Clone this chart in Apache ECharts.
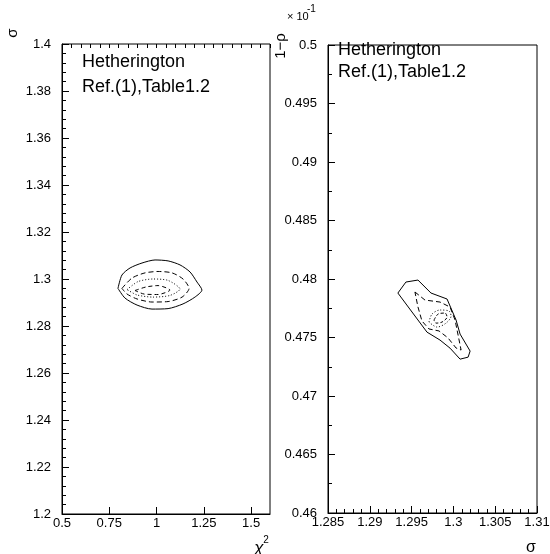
<!DOCTYPE html>
<html>
<head>
<meta charset="utf-8">
<script src="https://cdn.jsdelivr.net/npm/echarts@6/dist/echarts.min.js"></script>
<style>
  html, body { margin: 0; padding: 0; background: #fff; }
  #chart { width: 550px; height: 554px; }
</style>
</head>
<body>
<div id="chart"></div>
<script>
// axis ranges / ticks
var chiRange = [0.5, 1.6], chiStep = 0.25, chiMinorStep = 0.05;
var sigRange = [1.2, 1.4], sigStep = 0.02;
var sig2Range = [1.285, 1.31], sig2Step = 0.005;
var rhoRange = [0.46, 0.5], rhoStep = 0.005;

// left panel: chi2 vs sigma contours (outer -> inner)
var chiSigOuter = [
    [0.796, 1.2960], [0.817, 1.3017], [0.860, 1.3047], [0.923, 1.3068],
    [0.992, 1.3081], [1.061, 1.3077], [1.124, 1.3060], [1.177, 1.3030],
    [1.214, 1.2987], [1.240, 1.2953], [1.203, 1.2923], [1.140, 1.2894],
    [1.061, 1.2874], [0.976, 1.2872], [0.897, 1.2889], [0.833, 1.2919],
    [0.796, 1.2960]
];
var chiSigLevel2 = [
    [0.817, 1.2960], [0.870, 1.3004], [0.939, 1.3026], [1.008, 1.3032],
    [1.082, 1.3026], [1.140, 1.3000], [1.172, 1.2960], [1.135, 1.2923],
    [1.061, 1.2904], [0.976, 1.2902], [0.897, 1.2915], [0.844, 1.2936],
    [0.817, 1.2960]
];
var chiSigLevel3 = [
    [0.844, 1.2955], [0.902, 1.2989], [0.981, 1.3000], [1.061, 1.2994],
    [1.124, 1.2957], [1.071, 1.2930], [0.981, 1.2923], [0.897, 1.2932],
    [0.844, 1.2955]
];
var chiSigInner = [
    [0.886, 1.2951], [0.944, 1.2966], [1.008, 1.2972], [1.071, 1.2953],
    [1.008, 1.2934], [0.934, 1.2936], [0.886, 1.2951]
];

// right panel: sigma vs 1-rho (x 10^-1) contours
var sigRhoOuter = [
    [1.29336, 0.47880], [1.29432, 0.47974], [1.29576, 0.47991], [1.29732, 0.47880],
    [1.29924, 0.47829], [1.30032, 0.47649], [1.30080, 0.47529], [1.30200, 0.47384],
    [1.30176, 0.47332], [1.30080, 0.47315], [1.29960, 0.47409], [1.29840, 0.47478],
    [1.29684, 0.47546], [1.29336, 0.47880]
];
var sigRhoLevel2 = [
    [1.29540, 0.47889], [1.29660, 0.47820], [1.29840, 0.47803], [1.29960, 0.47760],
    [1.30020, 0.47649], [1.30056, 0.47521], [1.30092, 0.47393], [1.30032, 0.47410],
    [1.29936, 0.47496], [1.29828, 0.47556], [1.29708, 0.47573], [1.29624, 0.47641],
    [1.29576, 0.47761], [1.29540, 0.47889]
];
var sigRhoLevel3 = [
    [1.29708, 0.47632], [1.29744, 0.47700], [1.29840, 0.47735], [1.29948, 0.47726],
    [1.29972, 0.47683], [1.29912, 0.47623], [1.29804, 0.47589], [1.29708, 0.47632]
];
var sigRhoInner = [
    [1.29768, 0.47649], [1.29816, 0.47700], [1.29900, 0.47709], [1.29924, 0.47675],
    [1.29864, 0.47632], [1.29792, 0.47623], [1.29768, 0.47649]
];

var FONT = 'Liberation Sans';
var labelStyle = { color: '#000', fontSize: 13, fontFamily: FONT };

function xAx(grid, range, step, extra) {
    return Object.assign({
        type: 'value', gridIndex: grid, min: range[0], max: range[1], interval: step,
        axisLine: { show: true, onZero: false, lineStyle: { color: '#000', width: 1 } },
        axisTick: { show: true, inside: true, length: 7, lineStyle: { color: '#000' } },
        axisLabel: Object.assign({ margin: 3 }, labelStyle),
        splitLine: { show: false }
    }, extra || {});
}

function yAx(grid, range, step, minorSplit) {
    return {
        type: 'value', gridIndex: grid, min: range[0], max: range[1], interval: step,
        axisLine: { show: true, onZero: false, lineStyle: { color: '#000', width: 1 } },
        axisTick: { show: true, inside: true, length: 7, lineStyle: { color: '#000' } },
        minorTick: { show: true, splitNumber: minorSplit, length: 4, lineStyle: { color: '#000' } },
        axisLabel: Object.assign({ margin: 11 }, labelStyle),
        splitLine: { show: false }, minorSplitLine: { show: false }
    };
}

function contour(data, xi, yi, dash, smooth) {
    return {
        type: 'line', xAxisIndex: xi, yAxisIndex: yi, data: data,
        showSymbol: false, symbol: 'none', smooth: smooth, silent: true, animation: false,
        lineStyle: { color: '#000', width: 1, type: dash }
    };
}

function txt(x, y, text, size, rot, extra) {
    return {
        type: 'text', x: x, y: y, rotation: rot || 0, silent: true,
        style: Object.assign({
            text: text, fill: '#000', fontSize: size, fontFamily: FONT,
            align: 'left', verticalAlign: 'middle'
        }, extra || {})
    };
}

var chart = echarts.init(document.getElementById('chart'));
chart.setOption({
    animation: false,
    backgroundColor: '#fff',
    grid: [
        { left: 62, top: 44, width: 208, height: 470, show: true, borderColor: '#000', borderWidth: 1,
          containLabel: false, outerBoundsMode: 'none' },
        { left: 328, top: 45, width: 209, height: 468, show: true, borderColor: '#000', borderWidth: 1,
          containLabel: false, outerBoundsMode: 'none' }
    ],
    xAxis: [
        xAx(0, chiRange, chiStep, { axisLabel: Object.assign({ margin: 3, showMaxLabel: false }, labelStyle) }),
        xAx(0, chiRange, chiMinorStep, {
            axisLine: { show: false }, axisLabel: { show: false },
            axisTick: { show: true, inside: true, length: 4, lineStyle: { color: '#000' } }
        }),
        xAx(1, sig2Range, sig2Step, {
            minorTick: { show: true, splitNumber: 5, length: 4, lineStyle: { color: '#000' } },
            minorSplitLine: { show: false }
        })
    ],
    yAxis: [
        yAx(0, sigRange, sigStep, 5),
        yAx(1, rhoRange, rhoStep, 2)
    ],
    series: [
        contour(chiSigOuter, 0, 0, 'solid', 0.25),
        contour(chiSigLevel2, 0, 0, [5, 3], 0.25),
        contour(chiSigLevel3, 0, 0, [1, 2], 0.25),
        contour(chiSigInner, 0, 0, [4, 3], 0.25),
        contour(sigRhoOuter, 2, 1, 'solid', false),
        contour(sigRhoLevel2, 2, 1, [5, 3], false),
        contour(sigRhoLevel3, 2, 1, [1, 2], 0.3),
        contour(sigRhoInner, 2, 1, [3, 2], 0.3)
    ],
    graphic: [
        txt(82, 62, 'Hetherington', 18),
        txt(82, 87, 'Ref.(1),Table1.2', 18),
        txt(338, 50, 'Hetherington', 18),
        txt(338, 72, 'Ref.(1),Table1.2', 18),
        txt(13, 33, 'σ', 15, Math.PI / 2, { align: 'center' }),
        txt(281, 46, '1−ρ', 15, Math.PI / 2, { align: 'center' }),
        txt(287, 17, '× 10', 11),
        txt(307, 9, '-1', 10),
        txt(259, 548, 'χ', 17, 0, { align: 'center', fontStyle: 'italic' }),
        txt(266, 540, '2', 10, 0, { align: 'center' }),
        txt(531, 548, 'σ', 16, 0, { align: 'center' })
    ]
});
</script>
</body>
</html>
